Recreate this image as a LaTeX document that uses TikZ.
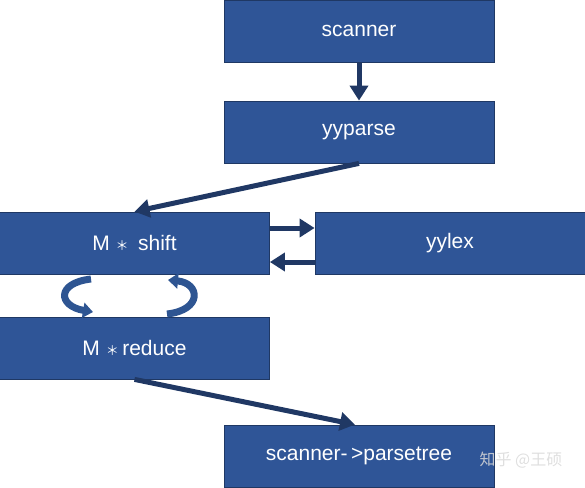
\documentclass[tikz,border=0pt]{standalone}
\usepackage{fontspec}
\setmainfont{Liberation Sans}
\newfontfamily\cjk{Noto Sans CJK SC}
\usetikzlibrary{arrows.meta}
\definecolor{boxfill}{HTML}{2F5597}
\definecolor{boxedge}{HTML}{1F3864}
\definecolor{arrowcol}{HTML}{203864}
\definecolor{curvecol}{HTML}{2E5592}
\newcommand{\astsym}{{\cjk\fontsize{13}{15}\selectfont ＊}}
\begin{document}
\begin{tikzpicture}[x=1pt,y=-1pt,
  boxnode/.style={draw=boxedge,line width=0.8pt,fill=boxfill,text=white,
    minimum width=270pt,minimum height=62pt,inner sep=0pt,
    font=\fontsize{21}{25}\selectfont},
  flowarrow/.style={draw=arrowcol,line width=5pt,
    -{Triangle[length=15pt,width=18pt]}},
  looparrow/.style={draw=curvecol,line width=7pt,
    -{Triangle[length=10pt,width=15pt]}}]
\useasboundingbox (0,0) rectangle (585,487);
\node[boxnode] (scanner) at (359,31) {\raisebox{-1pt}{scanner}};
\node[boxnode] (yyparse) at (359,132) {\raisebox{-1pt}{yyparse}};
\node[boxnode] (shift) at (134.5,243) {M \astsym\ \,shift};
\node[boxnode] (yylex) at (450,243) {yylex};
\node[boxnode] (reduce) at (134.5,348) {M \astsym\,reduce};
\node[boxnode] (tree) at (359,456) {scanner-\,>parsetree};
\draw[flowarrow] (scanner.south) -- (yyparse.north);
\draw[flowarrow] (yyparse.south) -- (shift.north);
\draw[flowarrow] ([yshift=15pt]shift.east) -- ([yshift=15pt]yylex.west);
\draw[flowarrow] ([yshift=-19pt]yylex.west) -- ([yshift=-19pt]shift.east);
\draw[flowarrow] (reduce.south) -- ([xshift=-4pt]tree.north);
\coordinate (l1) at (91,279);
\coordinate (l2) at (93,312);
\coordinate (r1) at (167,314);
\coordinate (r2) at (168,280);
\draw[looparrow] (l1) .. controls (56,283) and (58,306) .. (l2);
\draw[looparrow] (r1) .. controls (203,310) and (200,283) .. (r2);
\node[text=white!70!gray,opacity=0.85,font=\cjk\fontsize{16}{18}\selectfont,anchor=west] (wm) at (476,460) {知乎 @王硕};
\end{tikzpicture}
\end{document}
